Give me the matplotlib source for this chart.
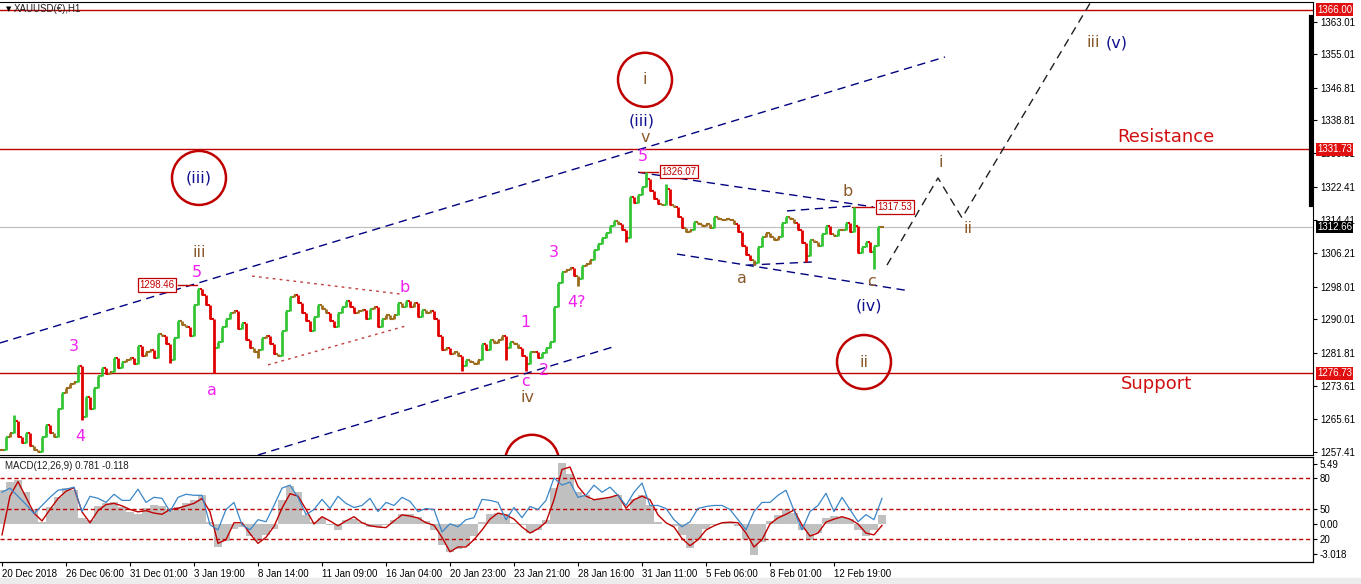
import numpy as np
import matplotlib.pyplot as plt
from matplotlib.patches import Ellipse, Rectangle

# hourly XAUUSD closes, sampled every 4th bar
closes = [
    1258, 1261, 1262, 1265, 1261, 1259.5, 1262, 1259, 1258, 1257.5,
    1261, 1264, 1262, 1261, 1268, 1272, 1273, 1274, 1274.5, 1278.5,
    1266, 1271, 1268, 1273, 1276, 1278, 1276.5, 1277, 1280.5, 1278,
    1279.5, 1280, 1280.5, 1279, 1283.5, 1281, 1282, 1282.5, 1280.5, 1286.5,
    1286, 1284, 1280, 1285.5, 1289.5, 1288.5, 1288, 1286, 1293.5, 1297.5,
    1296, 1293.5, 1290, 1283, 1284.5, 1288, 1290, 1291.5, 1292, 1287.5,
    1289, 1285, 1283, 1282, 1282.5, 1285.5, 1286, 1284, 1281.5, 1281,
    1287, 1292, 1295.5, 1296, 1294, 1291.5, 1289.5, 1287, 1290.5, 1293.5,
    1292.5, 1291.5, 1289.5, 1288, 1291.5, 1293, 1294.5, 1293, 1291.5, 1292,
    1292.3, 1290, 1292.5, 1293, 1288, 1290, 1291, 1290, 1291, 1294,
    1293, 1294.5, 1293, 1294, 1290.5, 1292.3, 1291.5, 1292, 1290, 1286,
    1282.5, 1283, 1281.5, 1282, 1281, 1278.5, 1280, 1279.5, 1279, 1280,
    1284, 1282.5, 1285, 1284.2, 1285, 1286, 1283, 1284.5, 1284, 1283,
    1281, 1279, 1282, 1282, 1280.5, 1281.7, 1283, 1284.4, 1293, 1299,
    1301.5, 1302, 1302.5, 1300.5, 1300, 1303, 1303.5, 1304.5, 1307, 1308.5,
    1310, 1311.3, 1313, 1314.2, 1313.5, 1311.9, 1310, 1320, 1318.6, 1320.5,
    1322.5, 1324.5, 1321.5, 1319.5, 1318.3, 1318, 1322, 1318, 1317.5, 1315,
    1312.5, 1311.5, 1311.8, 1314, 1313.5, 1313, 1313.5, 1312.5, 1315, 1314.7,
    1314.4, 1314.7, 1314.4, 1313.5, 1311.5, 1308, 1305.8, 1304.5, 1303.8, 1307.7,
    1310.2, 1311.2, 1310.2, 1309.5, 1310.2, 1313.6, 1315, 1314.7, 1313.6, 1311.9,
    1308.7, 1305.5, 1309.5, 1309, 1308, 1311, 1313, 1311, 1310.5, 1311.9,
    1312, 1313.6, 1311.5, 1313, 1306.3, 1307.7, 1309, 1306.5, 1308, 1312.7,
    1312.7,
]
# wicks that stick out of the close-to-close range
spike_idx = [3, 20, 42, 53, 64, 115, 126, 131, 144, 156, 161, 166, 188, 201, 213, 218]
spike_px = [1266.5, 1265.3, 1279.3, 1276.8, 1280.5, 1277.3, 1280.0, 1277.2,
            1298.2, 1309.0, 1326.07, 1323.3, 1303.3, 1304.0, 1317.53, 1302.3]

# MACD panel, every 8th bar
hist = [2.8, 3.5, 3.6, 2.6, 1.2, 0.2, 1.4, 2.2, 3.0, 2.8,
        0.5, 0.3, 1.5, 1.7, 1.8, 1.4, 1.0, 0.8, 1.3, 1.6,
        1.5, 1.2, 1.4, 1.7, 2.0, 2.4, 0.2, -1.9, -1.4, -0.4,
        -0.25, -1.0, -1.4, -0.9, -0.4, 2.0, 3.1, 2.6, 0.7, 0.2,
        0.5, -0.1, -0.5, 0.3, 0.4, 0.2, -0.25, -0.25, -0.1, 0.3,
        0.8, 0.8, 0.6, 0.25, -0.5, -1.7, -2.3, -2.1, -1.8, -1.0,
        0.2, 0.8, 0.9, 0.8, 0.1, -0.1, -0.75, -0.5, 0.3, 3.0,
        5.0, 4.1, 2.6, 2.4, 2.0, 2.1, 2.2, 2.4, 1.2, 2.1,
        2.4, 1.6, 0.2, 0.0, -0.15, -0.9, -2.0, -1.3, -0.4, -0.1,
        0.1, 0.15, -0.15, -1.2, -2.6, -1.5, 0.25, 0.75, 1.2, 0.9,
        -0.5, -1.3, -0.75, 0.5, 0.65, 0.6, 0.4, -0.5, -1.0, -0.5,
        0.78]
signal = [-0.9, 2.3, 3.5, 2.2, 0.9, 0.25, 1.2, 2.1, 2.7, 3.0,
          1.0, 0.1, 1.1, 1.6, 1.7, 1.5, 1.2, 1.0, 1.1, 0.9,
          0.8, 1.2, 1.3, 1.5, 1.7, 2.1, 1.0, -1.6, -1.3, 0.1,
          0.1, -0.8, -1.6, -1.1, -0.2, 1.3, 2.5, 2.3, 1.2, 0.0,
          0.6, 0.25, -0.15, 0.25, 0.6, 0.1, -0.15, -0.25, -0.3, 0.25,
          0.75, 0.65, 0.5, 0.1, -0.1, -1.1, -2.3, -1.9, -1.9, -1.3,
          -0.5, 0.4, 0.9, 0.75, 0.4, -0.25, -0.75, -0.4, 0.15, 2.0,
          4.5, 4.7, 3.1, 2.3, 2.0, 2.1, 2.2, 2.4, 1.3, 2.0,
          2.3, 2.0, 0.75, 0.1, -0.25, -1.2, -1.8, -1.3, -0.5, -0.15,
          0.1, 0.15, 0.1, -0.75, -1.9, -1.3, 0.0, 0.5, 0.8, 1.15,
          -0.1, -1.0, -0.75, 0.15, 0.4, 0.6, 0.4, 0.0, -0.75, -0.9,
          -0.12]
osc = [66, 70, 62, 54, 45, 53, 61, 68, 69, 71,
       47, 62, 60, 56, 64, 58, 58, 69, 56, 61,
       60, 47, 61, 64, 63, 63, 34, 29, 49, 56,
       34, 29, 39, 37, 53, 70, 73, 61, 44, 49,
       59, 50, 62, 55, 51, 53, 60, 47, 56, 53,
       61, 57, 47, 50, 49, 27, 35, 32, 39, 41,
       59, 58, 56, 39, 51, 41, 52, 49, 58, 80,
       73, 76, 61, 63, 73, 66, 71, 63, 53, 66,
       75, 53, 53, 50, 39, 32, 37, 50, 52, 53,
       53, 49, 39, 29, 47, 56, 56, 63, 68, 48,
       29, 47, 53, 65, 47, 61, 49, 37, 44, 39,
       60]

price_ticks = [1363.01, 1355.01, 1346.81, 1338.81, 1330.81, 1322.41, 1314.41,
               1306.21, 1298.01, 1290.01, 1281.81, 1273.61, 1265.61, 1257.41]
date_labels = ['20 Dec 2018', '26 Dec 06:00', '31 Dec 01:00', '3 Jan 19:00',
               '8 Jan 14:00', '11 Jan 09:00', '16 Jan 04:00', '20 Jan 23:00',
               '23 Jan 21:00', '28 Jan 16:00', '31 Jan 11:00', '5 Feb 06:00',
               '8 Feb 01:00', '12 Feb 19:00']
levels = [1366.00, 1331.73, 1276.73]
last_price = 1312.66

RED = '#c00000'
MAG = '#f020f0'
BRN = '#8b5a2b'
BLU = '#101090'
NAVY = '#000080'
SMALL = 'Liberation Sans'

closes = np.array(closes, dtype=float)
opens = np.r_[closes[0], closes[:-1]]
highs = np.maximum(opens, closes)
lows = np.minimum(opens, closes)
for i, p in zip(spike_idx, spike_px):
    highs[i] = max(highs[i], p)
    lows[i] = min(lows[i], p)
idx = np.arange(len(closes))
move = closes - opens
bar_col = np.where(move > 1.2, '#35c435', np.where(move < -1.2, '#e00000', '#9c6b1e'))

fig = plt.figure(figsize=(13.61, 5.84), dpi=100)
ax = fig.add_axes([0, 129 / 584, 1313 / 1361, 453 / 584])
axm = fig.add_axes([0, 22 / 584, 1313 / 1361, 105 / 584], sharex=ax)
fig.patches.append(Rectangle((0, 0), 1, 6 / 584, transform=fig.transFigure,
                             color='#ececec', zorder=0))

# price bars
ax.vlines(idx, lows, highs, colors=bar_col, linewidth=2.0, zorder=3)
ax.hlines(opens, idx - 0.5, idx, colors=bar_col, linewidth=1.5, zorder=3)
ax.hlines(closes, idx, idx + 0.5, colors=bar_col, linewidth=1.5, zorder=3)

for lv in levels:
    ax.axhline(lv, color=RED, linewidth=1, zorder=2)
ax.axhline(last_price, color='#c0c0c0', linewidth=0.9, zorder=1)

# channel and triangle lines
dash = (0, (6, 4))
ax.plot([-0.5, 235.75], [1284.18, 1354.4], color=NAVY, lw=1, ls=dash)
ax.plot([64, 152.75], [1256.67, 1283.2], color=NAVY, lw=1, ls=dash)
ax.plot([159, 217.75], [1326.1, 1317.6], color=NAVY, lw=1, ls=dash)
ax.plot([168.75, 227], [1306.0, 1296.95], color=NAVY, lw=1, ls=dash)
ax.plot([196.25, 212.5], [1316.6, 1317.8], color=NAVY, lw=1, ls=dash)
ax.plot([186.5, 202.75], [1303.3, 1304.07], color=NAVY, lw=1, ls=dash)
ax.plot([221.25, 234, 240, 272.5], [1303.3, 1324.7, 1314.9, 1368.4],
        color='#202020', lw=1, ls=dash)
ax.plot([62.5, 99.5], [1300.6, 1296.2], color='#c04040', lw=1, ls=(0, (2, 3)))
ax.plot([66.5, 100.75], [1278.8, 1288.3], color='#c04040', lw=1, ls=(0, (2, 3)))

# price callouts
for (xc, yc), txt, (x0, x1) in [((38.75, 1298.4), '1298.46', (44, 48.75)),
                                ((169.25, 1326.2), '1326.07', (159.5, 164)),
                                ((223.25, 1317.6), '1317.53', (212.5, 218))]:
    ax.plot([x0, x1], [yc, yc], color=RED, lw=1)
    ax.text(xc, yc, txt, color=RED, fontsize=7, ha='center', va='center',
            family=SMALL,
            bbox=dict(facecolor='white', edgecolor=RED, pad=1.2, lw=0.9))

# circles
for cx, cy in [(160.75, 1348.8), (49.25, 1324.7), (215.5, 1279.5), (132.5, 1255.0)]:
    ax.add_patch(Ellipse((cx, cy), 13.5, 13.26, fill=False, edgecolor=RED, lw=1.8))

labels = [
    (18, 1283.2, '3', MAG), (19.5, 1261.3, '4', MAG), (49.25, 1306.3, 'iii', BRN),
    (48.75, 1301.5, '5', MAG), (52.5, 1272.6, 'a', MAG), (100.75, 1297.9, 'b', MAG),
    (130.75, 1289.1, '1', MAG), (135.5, 1277.5, '2', MAG), (130.75, 1274.8, 'c', MAG),
    (131.25, 1270.9, 'iv', BRN), (138, 1306.3, '3', MAG), (143.75, 1294.0, '4?', MAG),
    (160.25, 1329.9, '5', MAG), (160.75, 1334.7, 'v', BRN), (160, 1338.8, '(iii)', BLU),
    (160.75, 1348.8, 'i', BRN), (49.25, 1324.7, '(iii)', BLU), (185, 1299.9, 'a', BRN),
    (211.5, 1321.3, 'b', BRN), (217.5, 1299.2, 'c', BRN), (216.75, 1293.3, '(iv)', BLU),
    (215.5, 1279.5, 'ii', BRN), (234.75, 1328.6, 'i', BRN), (241.5, 1312.2, 'ii', BRN),
    (272.75, 1357.85, 'iii', BRN), (278.75, 1357.85, '(v)', BLU),
]
for x, y, t, c in labels:
    ax.text(x, y, t, color=c, fontsize=11.5, ha='center', va='center', zorder=5)
ax.text(291, 1334.8, 'Resistance', color='#d01010', fontsize=13, ha='center', va='center')
ax.text(288.75, 1274.1, 'Support', color='#d01010', fontsize=13, ha='center', va='center')

ax.set_xlim(-0.5, 327.75)
ax.set_ylim(1256.67, 1367.9)
ax.yaxis.tick_right()
ax.set_yticks(price_ticks)
ax.set_yticklabels(['%.2f' % p for p in price_ticks], family=SMALL)
ax.tick_params(axis='y', labelsize=7, length=3, pad=2)
ax.tick_params(axis='x', bottom=False, labelbottom=False)
ax.spines['left'].set_visible(False)

# right-hand price boxes
ytr = ax.get_yaxis_transform()
for lv in levels:
    ax.text(1.003, lv, '%.2f' % lv, transform=ytr, color='white', fontsize=7,
            va='center', ha='left', zorder=10, family=SMALL,
            bbox=dict(facecolor='#e01010', edgecolor='none', pad=1))
ax.text(1.003, last_price, '%.2f' % last_price, transform=ytr, color='white',
        fontsize=7, va='center', ha='left', zorder=10, family=SMALL,
        bbox=dict(facecolor='black', edgecolor='none', pad=1))
ax.plot([0.9985, 0.9985], [1364.2, 1318.1], transform=ytr, color='black',
        lw=3, clip_on=False)

fig.text(6 / 1361, 1 - 9 / 584, '\u25bc', fontsize=5, va='center')
fig.text(14 / 1361, 1 - 9 / 584, 'XAUUSD(\u20ac),H1', fontsize=7, va='center',
         color='#202020', family=SMALL)

# MACD panel
mx = np.arange(0, len(closes), 2)
axm.bar(mx, hist, width=2, color='#c0c0c0', linewidth=0, zorder=1)
axm.plot(mx, signal, color='#c00000', lw=1, zorder=3)
axm.set_ylim(-3.14, 5.53)
axo = axm.twinx()
axo.plot(mx, osc, color='#3a86c8', lw=0.9, zorder=4)
for lv in [80, 50, 20]:
    axo.axhline(lv, color='#c00000', lw=1, ls=(0, (3, 2)))
axo.set_ylim(-2.6, 100.65)
axo.set_yticks([])
axm.yaxis.tick_right()
axm.set_yticks([4.96, 3.8, 1.24, 0, -1.24, -2.48])
axm.set_yticklabels(['5.49', '80', '50', '0.00', '20', '-3.018'], family=SMALL)
axm.tick_params(axis='y', labelsize=7, length=3, pad=2)
axm.set_xticks(np.arange(0, 221, 16))
axm.set_xticklabels(date_labels, ha='left', family=SMALL)
axm.tick_params(axis='x', labelsize=7, length=3, pad=2)
for a in (axm, axo):
    a.spines['left'].set_visible(False)
axm.text(0.004, 0.91, 'MACD(12,26,9) 0.781 -0.118', transform=axm.transAxes,
         fontsize=7, va='center', color='#202020', family=SMALL)

fig.savefig('out.png', dpi=100)
